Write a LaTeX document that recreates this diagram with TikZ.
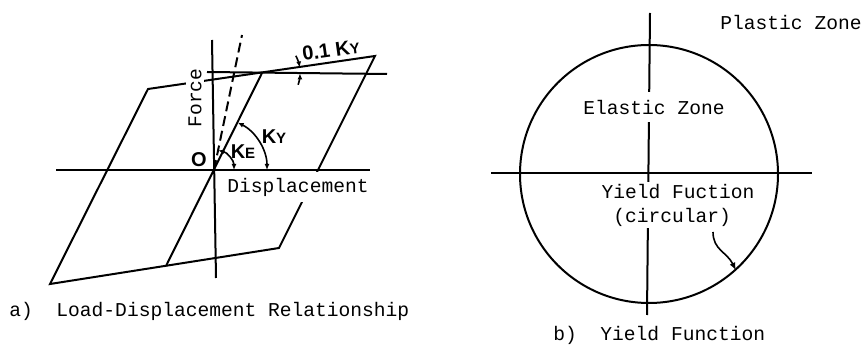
\documentclass[tikz,border=0pt]{standalone}
\usepackage{fontspec}
\setmonofont{Liberation Mono}
\setsansfont{Liberation Sans}
\usetikzlibrary{arrows.meta}

\tikzset{
  curve/.style={line width=1pt},
  typed/.style={font=\ttfamily\fontsize{9.8}{12}\selectfont},
  stiff/.style={font=\sffamily\bfseries\fontsize{10}{12}\selectfont, inner sep=0pt},
  gaplbl/.style={typed, fill=white, inner sep=1pt},
  angmark/.style={line width=0.8pt},
}
\newcommand{\subcap}[1]{{\fontsize{7.5}{8}\selectfont #1}}

\begin{document}
\begin{tikzpicture}[x=0.5pt, y=-0.5pt, >={Latex[length=3pt,width=2.5pt]}]
  \useasboundingbox (0,0) rectangle (868,347);
  % a) Load-displacement loop, corners of the bilinear cycle
  \coordinate (O) at (214,170);
  \coordinate (A) at (50,284);
  \coordinate (B) at (148,89);
  \coordinate (C) at (375,56);
  \coordinate (D) at (279,248);
  \coordinate (E) at (166,266);
  \coordinate (F) at (262,73);
  \coordinate (xl) at (56,170);   \coordinate (xr) at (370,170);
  \coordinate (yt) at (212,40);   \coordinate (yb) at (216,278);
  \coordinate (fyl) at (207,72);  \coordinate (fyr) at (387,74);
  \coordinate (kel) at (242,35);
  \draw[curve] (xl) -- (xr);
  \draw[curve] (yb) -- (yt);
  \draw[curve] (A) -- (B) -- (C) -- (D) -- cycle;
  \draw[curve] (E) -- (F);
  \draw[curve] (fyl) -- (fyr);
  \draw[curve, dash pattern=on 5pt off 2.5pt] (O) -- (kel);
  % Stiffness arcs (angles negative: y axis points down)
  \draw[angmark, <->] ([xshift=10pt]O) arc[start angle=0, end angle=-78, radius=20];
  \draw[angmark, <->] ([xshift=26.5pt]O) arc[start angle=0, end angle=-63.4, radius=53];
  \draw[angmark, ->] ([shift={(-27:38)}]F) arc[start angle=-27, end angle=-8.3, radius=38];
  \draw[angmark, ->] ([shift={(18:38)}]F) arc[start angle=18, end angle=0.6, radius=38];
  % Labels
  \node[stiff] (orig) at (199,160) {O};
  \node[stiff] (ke) at (243,152) {K\subcap{E}};
  \node[stiff] (ky) at (274,137) {K\subcap{Y}};
  \node[stiff, rotate=8] (pk) at (331,50) {0.1 K\subcap{Y}};
  \node[gaplbl, rotate=90] (force) at (195,98) {Force};
  \node[gaplbl, inner ysep=3pt] (disp) at (298,187) {Displacement};
  \node[typed, anchor=west, inner sep=0pt] (capa) at (9,311) {a)\ \ Load-Displacement Relationship};

  % b) Yield function
  \coordinate (hl) at (491,173);  \coordinate (hr) at (812,173);
  \coordinate (vt) at (650,13);   \coordinate (vb) at (647,315);
  \coordinate (lead) at (713,232);
  \draw[curve] (hl) -- (hr);
  \draw[curve] (vb) -- (vt);
  \node[draw, curve, circle, minimum size=129pt, inner sep=0pt] (yf) at (649,174) {};
  \node[typed] (pz) at (791,22) {Plastic Zone};
  \node[gaplbl, inner ysep=4pt] (ez) at (654,107) {Elastic Zone};
  \node[gaplbl, align=left] (yfn) at (678,205) {Yield Fuction\\\hspace*{0.6em}(circular)};
  \draw[angmark, -{Latex[length=4pt,width=3pt]}] (lead) .. controls (713,250) and (727,252) .. (yf.-48);
  \node[typed, anchor=west, inner sep=0pt] (capb) at (553,335) {b)\ \ Yield Function};
\end{tikzpicture}
\end{document}
